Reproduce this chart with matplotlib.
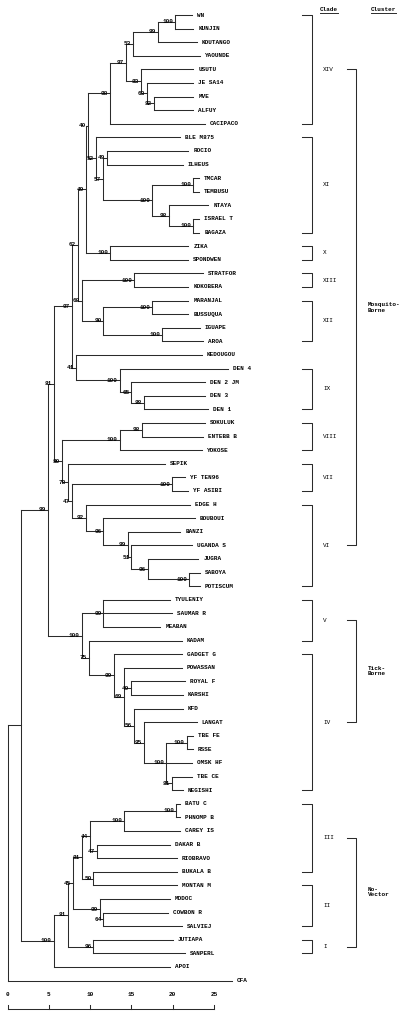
import matplotlib
matplotlib.use("Agg")
import matplotlib.pyplot as plt

# leaves top to bottom, with tip distance (scale units)
leaf_names = [
    "WN", "KUNJIN", "KOUTANGO", "YAOUNDE", "USUTU", "JE SA14", "MVE", "ALFUY",
    "CACIPACO", "BLE M875", "ROCIO", "ILHEUS", "TMCAR", "TEMBUSU", "NTAYA",
    "ISRAEL T", "BAGAZA", "ZIKA", "SPONDWEN", "STRATFOR", "KOKOBERA", "MARANJAL",
    "BUSSUQUA", "IGUAPE", "AROA", "KEDOUGOU", "DEN 4", "DEN 2 JM", "DEN 3",
    "DEN 1", "SOKULUK", "ENTEBB B", "YOKOSE", "SEPIK", "YF TEN96", "YF ASIBI",
    "EDGE H", "BOUBOUI", "BANZI", "UGANDA S", "JUGRA", "SABOYA", "POTISCUM",
    "TYULENIY", "SAUMAR R", "MEABAN", "KADAM", "GADGET G", "POWASSAN",
    "ROYAL F", "KARSHI", "KFD", "LANGAT", "TBE FE", "RSSE", "OMSK HF",
    "TBE CE", "NEGISHI", "BATU C", "PHNOMP B", "CAREY IS", "DAKAR B",
    "RIOBRAVO", "BUKALA B", "MONTAN M", "MODOC", "COWBON R", "SALVIEJ",
    "JUTIAPA", "SANPERL", "APOI", "CFA",
]
leaf_tip = [
    22.3, 22.5, 22.9, 23.3, 22.5, 22.5, 22.5, 22.5,
    23.9, 20.9, 21.9, 21.2, 23.2, 23.2, 24.3,
    23.2, 23.2, 21.9, 21.9, 23.7, 21.9, 21.9,
    21.9, 23.3, 23.7, 23.5, 26.7, 23.9, 23.9,
    24.3, 23.9, 23.7, 23.5, 19.1, 21.5, 21.9,
    22.1, 22.7, 20.9, 22.3, 23.1, 23.3, 23.3,
    19.7, 19.9, 18.5, 21.1, 21.1, 21.1,
    21.5, 21.2, 21.2, 22.9, 22.4, 22.4, 22.3,
    22.3, 21.2, 20.9, 20.9, 20.9, 19.7,
    20.5, 20.5, 20.5, 19.7, 19.4, 21.1,
    20.0, 21.5, 19.7, 27.2,
]

# internal nodes, children before parents
node_names = [
    "wn", "kou", "yao", "mve", "je", "usu", "n97a", "xiv",
    "roc", "tmc", "isr", "nta", "ntaya", "n57", "xi", "n40",
    "zika", "n49", "str", "mar", "igu", "xii", "n68", "n62",
    "den13", "den2", "den", "n41", "n97",
    "sok", "viii", "yf", "sab", "jug", "uga", "ban", "bou", "vi",
    "n47", "n78", "n80", "n81",
    "v", "roy", "tbe", "neg", "omsk", "lan", "kfd", "pow", "gad", "kad",
    "tick", "n99",
    "batu", "car", "dak", "n44", "buk", "n81c", "cow", "mod", "n45",
    "jut", "n81b", "n100b", "ingroup", "root",
]
node_children = [
    ["WN", "KUNJIN"], ["wn", "KOUTANGO"], ["kou", "YAOUNDE"], ["MVE", "ALFUY"],
    ["JE SA14", "mve"], ["USUTU", "je"], ["yao", "usu"], ["n97a", "CACIPACO"],
    ["ROCIO", "ILHEUS"], ["TMCAR", "TEMBUSU"], ["ISRAEL T", "BAGAZA"],
    ["NTAYA", "isr"], ["tmc", "nta"], ["roc", "ntaya"], ["BLE M875", "n57"],
    ["xiv", "xi"],
    ["ZIKA", "SPONDWEN"], ["n40", "zika"], ["STRATFOR", "KOKOBERA"],
    ["MARANJAL", "BUSSUQUA"], ["IGUAPE", "AROA"], ["mar", "igu"],
    ["str", "xii"], ["n49", "n68"],
    ["DEN 3", "DEN 1"], ["DEN 2 JM", "den13"], ["DEN 4", "den2"],
    ["KEDOUGOU", "den"], ["n62", "n41"],
    ["SOKULUK", "ENTEBB B"], ["sok", "YOKOSE"], ["YF TEN96", "YF ASIBI"],
    ["SABOYA", "POTISCUM"], ["JUGRA", "sab"], ["UGANDA S", "jug"],
    ["BANZI", "uga"], ["BOUBOUI", "ban"], ["EDGE H", "bou"],
    ["yf", "vi"], ["SEPIK", "n47"], ["viii", "n78"], ["n97", "n80"],
    ["TYULENIY", "SAUMAR R", "MEABAN"], ["ROYAL F", "KARSHI"],
    ["TBE FE", "RSSE"], ["TBE CE", "NEGISHI"], ["tbe", "OMSK HF", "neg"],
    ["LANGAT", "omsk"], ["KFD", "lan"], ["POWASSAN", "roy", "kfd"],
    ["GADGET G", "pow"], ["KADAM", "gad"], ["v", "kad"], ["n81", "tick"],
    ["BATU C", "PHNOMP B"], ["batu", "CAREY IS"], ["DAKAR B", "RIOBRAVO"],
    ["car", "dak"], ["BUKALA B", "MONTAN M"], ["n44", "buk"],
    ["COWBON R", "SALVIEJ"], ["MODOC", "cow"], ["n81c", "mod"],
    ["JUTIAPA", "SANPERL"], ["n45", "jut"], ["n81b", "APOI"],
    ["n99", "n100b"], ["ingroup", "CFA"],
]
node_depth = [
    20.3, 18.2, 15.2, 17.7, 16.9, 16.2, 14.3, 12.4,
    12.0, 22.5, 22.5, 19.5, 17.5, 11.6, 10.7, 9.7,
    12.4, 9.5, 15.3, 17.5, 18.7, 11.6, 9.0, 8.5,
    16.5, 15.0, 13.6, 8.3, 7.8,
    16.3, 13.6, 19.9, 22.0, 17.0, 15.0, 14.6, 11.6, 9.5,
    7.8, 7.3, 6.6, 5.6,
    11.6, 15.0, 21.7, 19.9, 19.2, 16.5, 15.3, 14.1, 12.9, 9.9,
    9.0, 4.9,
    20.4, 14.1, 10.8, 10.0, 10.4, 9.0, 11.6, 11.2, 7.9,
    10.4, 7.3, 5.6, 1.6, 0.0,
]
node_support = [
    100, 99, 53, 82, 63, 83, 97, 98,
    49, 100, 100, 98, 100, 57, 52, 40,
    100, 49, 100, 100, 100, 90, 68, 62,
    88, 65, 100, 41, 97,
    98, 100, 100, 100, 96, 51, 99, 96, 92,
    47, 78, 80, 81,
    99, 49, 100, 81, 100, 95, 56, 69, 99, 75,
    100, 99,
    100, 100, 47, 44, 50, 81, 64, 99, 45,
    96, 81, 100, None, None,
]

clade_names = ["XIV", "XI", "X", "XIII", "XII", "IX", "VIII", "VII", "VI",
               "V", "IV", "III", "II", "I"]
clade_first = ["WN", "BLE M875", "ZIKA", "STRATFOR", "MARANJAL", "DEN 4",
               "SOKULUK", "SEPIK", "EDGE H", "TYULENIY", "GADGET G", "BATU C",
               "MONTAN M", "JUTIAPA"]
clade_last = ["CACIPACO", "BAGAZA", "SPONDWEN", "KOKOBERA", "AROA", "DEN 1",
              "YOKOSE", "YF ASIBI", "POTISCUM", "KADAM", "NEGISHI", "BUKALA B",
              "SALVIEJ", "SANPERL"]

cluster_names = ["Mosquito-\nBorne", "Tick-\nBorne", "No-\nVector"]
cluster_first = ["XIV", "V", "III"]
cluster_last = ["VI", "IV", "I"]

scale_ticks = [0, 5, 10, 15, 20, 25]

LINE = "#2b2b2b"
FONT = "Liberation Mono"
FS = 4.3

# coordinates: x = distance, y = leaf row
x_of = dict(zip(leaf_names, leaf_tip))
y_of = {name: i for i, name in enumerate(leaf_names)}
for name, kids, depth in zip(node_names, node_children, node_depth):
    ys = [y_of[k] for k in kids]
    y_of[name] = (min(ys) + max(ys)) / 2
    x_of[name] = depth

fig = plt.figure(figsize=(4.04, 10.17), dpi=100)
ax = fig.add_axes([0, 0, 1, 1])
ax.set_xlim(-0.908, 48.0)
ax.set_ylim(73.68, -1.103)
ax.axis("off")

# branches
for name, kids in zip(node_names, node_children):
    nx = x_of[name]
    ys = [y_of[k] for k in kids]
    ax.plot([nx, nx], [min(ys), max(ys)], color=LINE, lw=0.75,
            solid_capstyle="projecting")
    for k in kids:
        ax.plot([nx, x_of[k]], [y_of[k], y_of[k]], color=LINE, lw=0.75,
                solid_capstyle="projecting")

# leaf names
for name in leaf_names:
    ax.annotate(name, (x_of[name], y_of[name]), xytext=(3.6, 0),
                textcoords="offset points", ha="left", va="center",
                fontsize=FS, family=FONT, weight="bold")

# bootstrap values
for name, s in zip(node_names, node_support):
    if s is None:
        continue
    ax.annotate(str(s), (x_of[name], y_of[name]), xytext=(-1.4, 0),
                textcoords="offset points", ha="right", va="center",
                fontsize=FS, family=FONT, weight="bold")

# clade brackets (x in axes fraction)
tr = ax.get_yaxis_transform()
bx0, bx1, lx = 301.7 / 404, 311.7 / 404, 323 / 404
clade_y = {}
for cname, a, b in zip(clade_names, clade_first, clade_last):
    y0, y1 = y_of[a], y_of[b]
    ax.plot([bx0, bx1, bx1, bx0], [y0, y0, y1, y1], color=LINE, lw=0.75,
            transform=tr)
    clade_y[cname] = (y0 + y1) / 2
    ax.text(lx, clade_y[cname], cname, transform=tr, ha="left", va="center",
            fontsize=FS, family=FONT)

# cluster brackets
cx0, cx1, clx = 347 / 404, 356 / 404, 368 / 404
for cname, a, b in zip(cluster_names, cluster_first, cluster_last):
    y0, y1 = clade_y[a], clade_y[b]
    ax.plot([cx0, cx1, cx1, cx0], [y0, y0, y1, y1], color=LINE, lw=0.75,
            transform=tr)
    ax.text(clx, (y0 + y1) / 2, cname, transform=tr, ha="left", va="center",
            fontsize=FS, family=FONT, weight="bold", linespacing=1.1)

# column headers, underlined
hy = -0.42
heads = [ax.text(320 / 404, hy, "Clade", transform=tr, ha="left",
                 va="center", fontsize=FS, family=FONT, weight="bold"),
         ax.text(371 / 404, hy, "Cluster", transform=tr, ha="left",
                 va="center", fontsize=FS, family=FONT, weight="bold")]
fig.canvas.draw()
rend = fig.canvas.get_renderer()
for t in heads:
    bb = t.get_window_extent(rend).transformed(fig.transFigure.inverted())
    fig.add_artist(plt.Line2D([bb.x0, bb.x1], [bb.y0 - 0.001] * 2,
                              transform=fig.transFigure, color=LINE, lw=0.7))

# scale bar
bar_y, tick_top, lab_y = 73.09, 72.80, 72.06
ax.plot([scale_ticks[0], scale_ticks[-1]], [bar_y, bar_y], color=LINE, lw=0.75)
for t in scale_ticks:
    ax.plot([t, t], [tick_top, bar_y], color=LINE, lw=0.75)
    ax.text(t, lab_y, str(t), ha="center", va="center", fontsize=FS,
            family=FONT, weight="bold")

fig.savefig("out.png", dpi=100, facecolor="white")
